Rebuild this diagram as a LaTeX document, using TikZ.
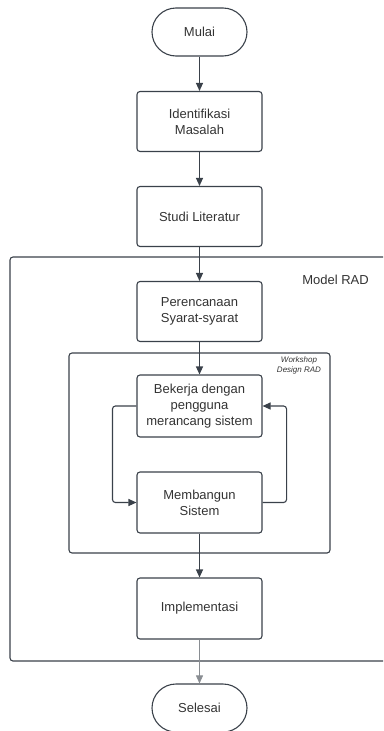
\documentclass[tikz,border=0pt]{standalone}
\usepackage{fontspec}
\setmainfont{Liberation Sans}
\usetikzlibrary{arrows.meta}
\definecolor{lineclr}{HTML}{3A414A}
\definecolor{txtclr}{HTML}{333333}

\begin{document}
\begin{tikzpicture}[x=1pt, y=-1pt,
    every node/.style={text=txtclr, font=\fontsize{13}{16}\selectfont},
    proc/.style={draw=lineclr, line width=1.1pt, rounded corners=3pt,
        minimum width=125pt, minimum height=60pt, align=center, inner sep=2pt},
    term/.style={draw=lineclr, line width=1.1pt, rounded corners=24pt,
        minimum width=95pt, minimum height=48pt},
    frame/.style={draw=lineclr, line width=1.1pt, rounded corners=3pt},
    flow/.style={draw=lineclr, line width=1.1pt, -{Triangle[length=8pt,width=7pt]}},
    loopback/.style={flow, rounded corners=3pt}]
            \clip (0,0) rectangle (383,731);

            % kotak Model RAD dan Workshop
            \draw[frame] (10,257) rectangle (396,661);
            \node (lblrad) at (335.5,280) {Model RAD};
            \draw[frame] (69,353) rectangle (330,553);
            \node[font=\fontsize{8}{10}\selectfont\itshape, align=center] (lblworkshop)
                at (299,365) {Workshop\\Design RAD};

            \node[term] (mulai) at (199.5,32) {Mulai};
            \node[proc] (identifikasi) at (199.5,121.5) {Identifikasi\\Masalah};
            \node[proc] (studi) at (199.5,216.5) {Studi Literatur};
            \node[proc] (perencanaan) at (199.5,311.5) {Perencanaan\\Syarat-syarat};
            \node[proc, minimum height=62pt] (bekerja) at (199.5,406) {Bekerja dengan\\pengguna\\merancang sistem};
            \node[proc, minimum height=61pt] (membangun) at (199.5,502.5) {Membangun\\Sistem};
            \node[proc, minimum height=61pt] (implementasi) at (199.5,608.5) {Implementasi};
            \node[term] (selesai) at (199.5,708) {Selesai};

            \foreach \a/\b in {mulai/identifikasi, identifikasi/studi, studi/perencanaan,
                perencanaan/bekerja, membangun/implementasi} {
                \draw[flow] (\a) -- (\b);
            }
            \draw[flow, draw=lineclr!60, line width=0.6pt] (implementasi) -- (selesai);

            % siklus workshop
            \draw[loopback] (bekerja.west) -- ++(-24,0) |- (membangun.west);
            \draw[loopback] (membangun.east) -- ++(24,0) |- (bekerja.east);
        \end{tikzpicture}
\end{document}
